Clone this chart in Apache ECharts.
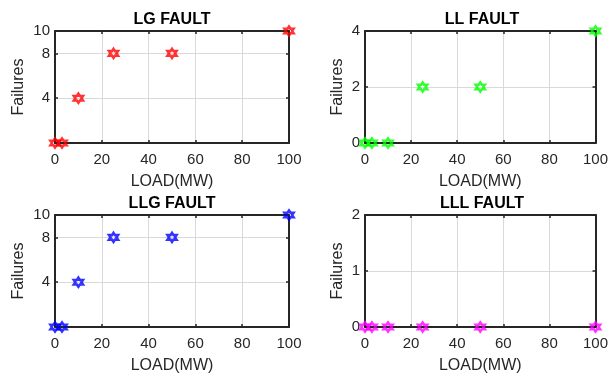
<!DOCTYPE html>
<html><head><meta charset="utf-8">
<script src="https://cdn.jsdelivr.net/npm/echarts@6/dist/echarts.min.js"></script>
<style>html,body{margin:0;padding:0;background:#fff}#c{width:611px;height:376px}</style>
</head><body><div id="c"></div>
<script>
const loadMW = [0, 3, 10, 25, 50, 100];
const lgFailures = [0, 0, 4, 8, 8, 10];
const llFailures = [0, 0, 0, 2, 2, 4];
const llgFailures = [0, 0, 4, 8, 8, 10];
const lllFailures = [0, 0, 0, 0, 0, 0];
const titles = ['LG FAULT', 'LL FAULT', 'LLG FAULT', 'LLL FAULT'];
const xTicks = [0, 20, 40, 60, 80, 100];
const yTicksLG = [4, 8, 10];
const yTicksLL = [0, 2, 4];
const yTicksLLG = [4, 8, 10];
const yTicksLLL = [0, 1, 2];
const yMax = [10, 4, 10, 2];

// hexagram symbol path
let pts = [];
for (let i = 0; i < 12; i++) {
  const a = -Math.PI / 2 + i * Math.PI / 6;
  const r = i % 2 === 0 ? 1 : 0.5774;
  pts.push(((1 + r * Math.cos(a)) * 50).toFixed(2) + ' ' + ((1 + r * Math.sin(a)) * 50).toFixed(2));
}
const hexPath = 'path://M' + pts.join(' L') + ' Z';

const series = [lgFailures, llFailures, llgFailures, lllFailures];
const yTicks = [yTicksLG, yTicksLL, yTicksLLG, yTicksLLL];
const colors = ['#ff0000', '#00ff00', '#0000ff', '#ff00ff'];
const grids = [
  {left: 55, top: 31, width: 234, height: 112},
  {left: 365, top: 31, width: 234, height: 112},
  {left: 55, top: 215, width: 234, height: 112},
  {left: 365, top: 215, width: 234, height: 112}
];
const axisColor = '#262626';
const font = 'Liberation Sans, Arial, sans-serif';
const lineW = 2;

const xAxes = [], yAxes = [];
grids.forEach((g, i) => {
  xAxes.push({
    gridIndex: i, type: 'value', min: 0, max: 100, interval: 20, position: 'bottom',
    name: 'LOAD(MW)', nameLocation: 'middle', nameGap: 31,
    nameTextStyle: {fontFamily: font, fontSize: 16, color: axisColor},
    axisLine: {show: true, onZero: false, lineStyle: {color: axisColor, width: lineW}},
    axisTick: {show: true, inside: true, length: 3, lineStyle: {color: axisColor, width: 1.5}},
    axisLabel: {fontFamily: font, fontSize: 15, color: axisColor, margin: 9},
    splitLine: {show: true, lineStyle: {color: '#d9d9d9', width: 1}}
  });
  yAxes.push({
    gridIndex: i, type: 'value', min: 0, max: yMax[i], position: 'left',
    name: 'Failures', nameLocation: 'middle', nameGap: i % 2 === 0 ? 28 : 19,
    nameTextStyle: {fontFamily: font, fontSize: 16, color: axisColor},
    axisLine: {show: true, onZero: false, lineStyle: {color: axisColor, width: lineW}},
    axisTick: {show: true, inside: true, length: 3, customValues: yTicks[i], lineStyle: {color: axisColor, width: 1.5}},
    axisLabel: {fontFamily: font, fontSize: 15, color: axisColor, margin: 5, customValues: yTicks[i]},
    splitLine: {show: true, lineStyle: {color: '#d9d9d9', width: 1}}
  });
});
grids.forEach((g, i) => {
  xAxes.push({
    gridIndex: i, type: 'value', min: 0, max: 100, interval: 20, position: 'top',
    axisLine: {show: true, onZero: false, lineStyle: {color: axisColor, width: lineW}},
    axisTick: {show: true, inside: true, length: 3, lineStyle: {color: axisColor, width: 1.5}},
    axisLabel: {show: false}, splitLine: {show: false}
  });
  yAxes.push({
    gridIndex: i, type: 'value', min: 0, max: yMax[i], position: 'right',
    axisLine: {show: true, onZero: false, lineStyle: {color: axisColor, width: lineW}},
    axisTick: {show: true, inside: true, length: 3, customValues: yTicks[i], lineStyle: {color: axisColor, width: 1.5}},
    axisLabel: {show: false}, splitLine: {show: false}
  });
});

const option = {
  animation: false,
  title: grids.map((g, i) => ({
    text: titles[i], left: g.left + g.width / 2, top: g.top - 19, textAlign: 'center', padding: 0,
    textStyle: {fontFamily: font, fontSize: 16, fontWeight: 'bold', color: '#000'}
  })),
  grid: grids.map(g => Object.assign({show: false}, g)),
  xAxis: xAxes,
  yAxis: yAxes,
  series: series.map((d, i) => ({
    type: 'scatter', xAxisIndex: i, yAxisIndex: i,
    data: loadMW.map((x, k) => [x, d[k]]),
    symbol: hexPath, symbolSize: 9, clip: false, z: 1,
    itemStyle: {color: 'rgba(255,255,255,0)', borderColor: colors[i], borderWidth: 2.6}
  }))
};
const chart = echarts.init(document.getElementById('c'), null, {renderer: 'canvas'});
chart.setOption(option);
</script></body></html>
